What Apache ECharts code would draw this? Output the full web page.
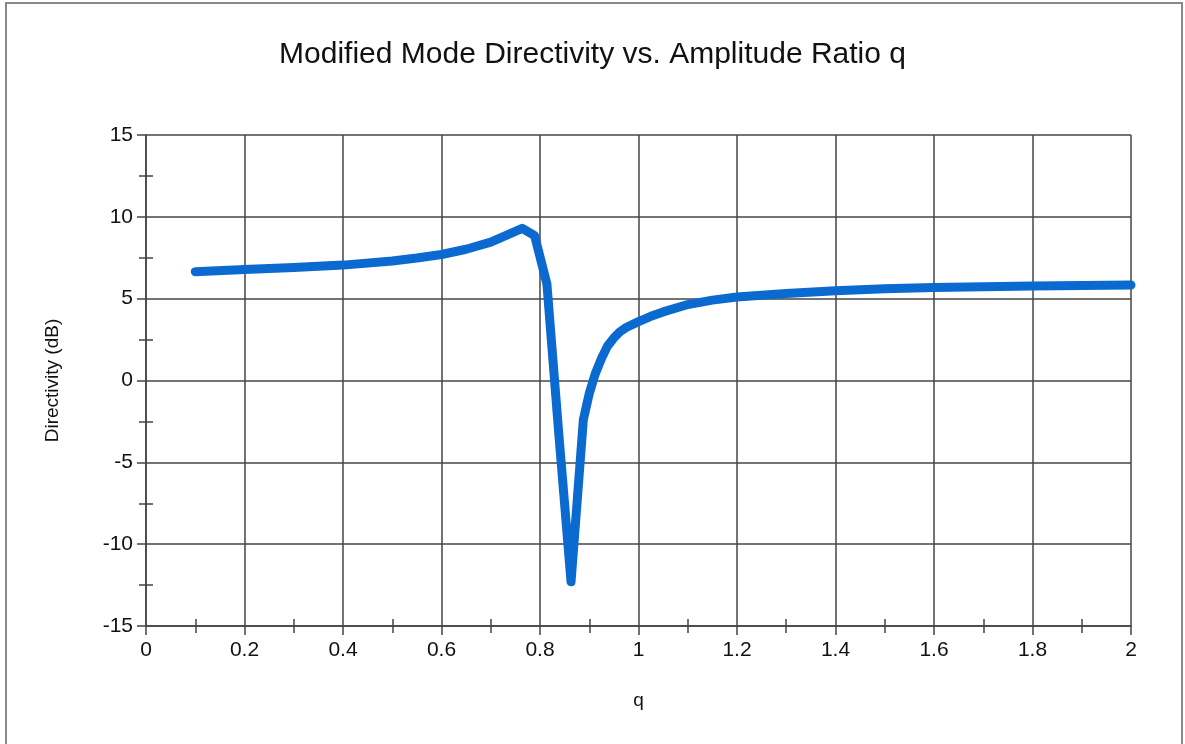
<!DOCTYPE html>
<html>
<head>
<meta charset="utf-8">
<script src="https://cdn.jsdelivr.net/npm/echarts@6/dist/echarts.min.js"></script>
<style>
  html, body { margin: 0; padding: 0; background: #fff; }
  #chart { width: 1185px; height: 744px; }
</style>
</head>
<body>
<div id="chart"></div>
<script>
// amplitude ratio q and directivity (dB)
var qValues = [0.1, 0.2, 0.3, 0.4, 0.5, 0.55, 0.6, 0.65, 0.7, 0.764, 0.789, 0.814, 0.838, 0.863, 0.888, 0.9, 0.912, 0.925, 0.937, 0.95, 0.962, 0.975, 1.0, 1.025, 1.05, 1.1, 1.15, 1.2, 1.3, 1.4, 1.5, 1.6, 1.8, 2.0];
var dbValues = [6.65, 6.78, 6.9, 7.05, 7.3, 7.48, 7.7, 8.02, 8.45, 9.3, 8.85, 5.9, -3.2, -12.3, -2.4, -0.8, 0.4, 1.36, 2.1, 2.6, 2.97, 3.24, 3.6, 3.92, 4.19, 4.64, 4.91, 5.1, 5.32, 5.48, 5.6, 5.68, 5.78, 5.83];

var seriesData = qValues.map(function (q, i) { return [q, dbValues[i]]; });

var chart = echarts.init(document.getElementById('chart'));
var axisColor = '#444';
var fontFamily = 'Liberation Sans, Arial, sans-serif';
var labelStyle = { color: '#111', fontSize: 21, fontFamily: fontFamily };

var option = {
    animation: false,
    backgroundColor: '#fff',
    title: {
        text: 'Modified Mode Directivity vs. Amplitude Ratio q',
        left: 'center',
        top: 35,
        textStyle: { color: '#111', fontSize: 30, fontWeight: 'normal', fontFamily: fontFamily }
    },
    graphic: [{
        type: 'rect',
        shape: { x: 6, y: 3, width: 1176, height: 745 },
        style: { fill: 'none', stroke: '#888', lineWidth: 2 },
        silent: true
    }],
    grid: { left: 146, right: 54, top: 135, bottom: 118 },
    xAxis: [{
        type: 'value',
        min: 0, max: 2, interval: 0.2,
        name: 'q',
        nameLocation: 'middle',
        nameGap: 65,
        nameTextStyle: { color: '#111', fontSize: 19, fontFamily: fontFamily },
        axisLine: { onZero: false, lineStyle: { color: axisColor, width: 1.5 } },
        axisTick: { length: 9, lineStyle: { color: axisColor, width: 1.5 } },
        minorTick: { show: true, splitNumber: 2, length: 7, lineStyle: { color: axisColor, width: 1.5 } },
        axisLabel: Object.assign({ margin: 14 }, labelStyle),
        splitLine: { lineStyle: { color: axisColor, width: 1.5 } }
    }, {
        // inward half of the minor ticks
        type: 'value',
        min: 0, max: 2, interval: 0.2,
        position: 'bottom',
        axisLine: { show: false, onZero: false },
        axisTick: { show: false, inside: true },
        minorTick: { show: true, splitNumber: 2, length: 7, lineStyle: { color: axisColor, width: 1.5 } },
        axisLabel: { show: false },
        splitLine: { show: false }
    }],
    yAxis: [{
        type: 'value',
        min: -15, max: 15, interval: 5,
        name: 'Directivity (dB)',
        nameLocation: 'middle',
        nameGap: 84,
        nameTextStyle: { color: '#111', fontSize: 19, fontFamily: fontFamily },
        axisLine: { onZero: false, lineStyle: { color: axisColor, width: 1.5 } },
        axisTick: { length: 9, lineStyle: { color: axisColor, width: 1.5 } },
        minorTick: { show: true, splitNumber: 2, length: 7, lineStyle: { color: axisColor, width: 1.5 } },
        axisLabel: Object.assign({ margin: 13 }, labelStyle),
        splitLine: { lineStyle: { color: axisColor, width: 1.5 } }
    }, {
        type: 'value',
        min: -15, max: 15, interval: 5,
        position: 'left',
        axisLine: { show: false, onZero: false },
        axisTick: { show: false, inside: true },
        minorTick: { show: true, splitNumber: 2, length: 7, lineStyle: { color: axisColor, width: 1.5 } },
        axisLabel: { show: false },
        splitLine: { show: false }
    }],
    series: [{
        type: 'line',
        data: seriesData,
        showSymbol: false,
        smooth: false,
        lineStyle: { color: '#0a6ad0', width: 9, join: 'round', cap: 'round' },
        z: 5
    }]
};

chart.setOption(option);
window.addEventListener('resize', function () {
    chart.resize();
});
</script>
</body>
</html>
